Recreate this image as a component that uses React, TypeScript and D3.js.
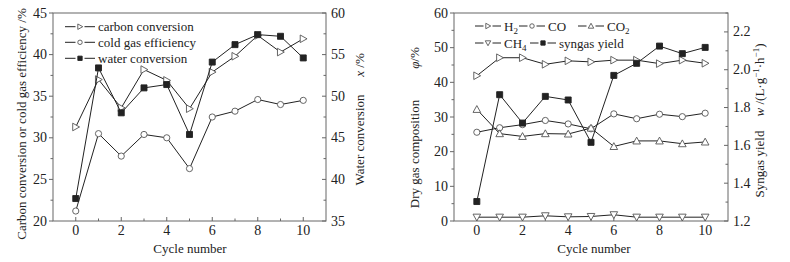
import React from "react";
import * as d3 from "d3";

const cycles = [0, 1, 2, 3, 4, 5, 6, 7, 8, 9, 10];
const carbonConversion = [31.3, 37.0, 33.6, 38.2, 36.9, 33.5, 37.9, 39.8, 42.3, 40.3, 41.9];
const coldGasEfficiency = [21.2, 30.5, 27.8, 30.4, 30.0, 26.3, 32.5, 33.2, 34.6, 34.0, 34.5];
const waterConversion = [37.7, 53.4, 48.0, 51.0, 51.4, 45.4, 54.1, 56.2, 57.4, 57.2, 54.6];

const h2 = [41.9, 47.1, 47.1, 45.2, 46.2, 45.9, 46.4, 46.4, 45.4, 46.4, 45.5];
const co = [25.6, 26.9, 27.8, 29.0, 28.0, 26.6, 30.9, 29.5, 30.8, 30.1, 31.1];
const co2 = [32.2, 25.2, 24.4, 25.2, 25.1, 26.8, 21.5, 23.1, 23.1, 22.3, 22.8];
const ch4 = [1.1, 1.1, 1.1, 1.5, 1.2, 1.3, 1.8, 1.1, 1.1, 1.1, 1.1];
const syngasYield = [1.303, 1.868, 1.718, 1.859, 1.84, 1.616, 1.97, 2.034, 2.125, 2.085, 2.118];

const xMajor = [0, 2, 4, 6, 8, 10];
const xMinor = [1, 3, 5, 7, 9];
const leftYTicks = [20, 25, 30, 35, 40, 45];
const leftYMinor = [22.5, 27.5, 32.5, 37.5, 42.5];
const leftRTicks = [35, 40, 45, 50, 55, 60];
const leftRMinor = [37.5, 42.5, 47.5, 52.5, 57.5];
const rightYTicks = [0, 10, 20, 30, 40, 50, 60];
const rightYMinor = [5, 15, 25, 35, 45, 55];
const rightRTicks = [1.2, 1.4, 1.6, 1.8, 2.0, 2.2];
const rightRMinor = [1.3, 1.5, 1.7, 1.9, 2.1, 2.3];

const FONT = "'Liberation Serif', 'Times New Roman', serif";
const AX = "#666";
const LN = "#222";
const TXT = "#222";

type Marker = "tri-right" | "tri-up" | "tri-down" | "circle" | "square";

function markerPath(kind: Marker, x: number, y: number, k = 1): string {
  const s = 3.8 * k;
  const r = 3.1 * k;
  const h = 3 * k;
  switch (kind) {
    case "tri-right":
      return `M${x - s * 0.8},${y - s}L${x + s},${y}L${x - s * 0.8},${y + s}Z`;
    case "tri-up":
      return `M${x},${y - s}L${x + s},${y + s * 0.8}L${x - s},${y + s * 0.8}Z`;
    case "tri-down":
      return `M${x},${y + s}L${x + s},${y - s * 0.8}L${x - s},${y - s * 0.8}Z`;
    case "circle":
      return `M${x + r},${y}A${r},${r} 0 1,1 ${x - r},${y}A${r},${r} 0 1,1 ${x + r},${y}Z`;
    case "square":
      return `M${x - h},${y - h}h${2 * h}v${2 * h}h${-2 * h}Z`;
  }
}

function MarkerShape({ kind, x, y, k = 1 }: { kind: Marker; x: number; y: number; k?: number }) {
  const filled = kind === "square";
  return (
    <path
      d={markerPath(kind, x, y, k)}
      fill={filled ? LN : "#fff"}
      stroke={filled ? LN : "#555"}
      strokeWidth={0.9}
    />
  );
}

function Series({
  values,
  x,
  y,
  kind,
}: {
  values: number[];
  x: d3.ScaleLinear<number, number>;
  y: d3.ScaleLinear<number, number>;
  kind: Marker;
}) {
  const line = d3
    .line<number>()
    .x((_, i) => x(cycles[i]))
    .y((v) => y(v));
  return (
    <g>
      <path d={line(values) || ""} fill="none" stroke={LN} strokeWidth={1} />
      {values.map((v, i) => (
        <MarkerShape key={i} kind={kind} x={x(cycles[i])} y={y(v)} />
      ))}
    </g>
  );
}

function Frame({
  x,
  yL,
  yR,
  lTicks,
  lMinor,
  rTicks,
  rMinor,
  rFmt,
}: {
  x: d3.ScaleLinear<number, number>;
  yL: d3.ScaleLinear<number, number>;
  yR: d3.ScaleLinear<number, number>;
  lTicks: number[];
  lMinor: number[];
  rTicks: number[];
  rMinor: number[];
  rFmt: (v: number) => string;
}) {
  const [x0, x1] = x.range();
  const [yb, yt] = yL.range();
  return (
    <g>
      <rect x={x0} y={yt} width={x1 - x0} height={yb - yt} fill="none" stroke={AX} strokeWidth={1} />
      {xMajor.map((t) => (
        <g key={"xm" + t}>
          <line x1={x(t)} x2={x(t)} y1={yb} y2={yb - 4} stroke={AX} />
          <text x={x(t)} y={yb + 14} textAnchor="middle" fontSize={14} fontFamily={FONT} fill={TXT}>
            {t}
          </text>
        </g>
      ))}
      {xMinor.map((t) => (
        <line key={"xn" + t} x1={x(t)} x2={x(t)} y1={yb} y2={yb - 2.5} stroke={AX} />
      ))}
      {lTicks.map((t) => (
        <g key={"lm" + t}>
          <line x1={x0} x2={x0 - 4} y1={yL(t)} y2={yL(t)} stroke={AX} />
          <text x={x0 - 6} y={yL(t) + 4.5} textAnchor="end" fontSize={14} fontFamily={FONT} fill={TXT}>
            {t}
          </text>
        </g>
      ))}
      {lMinor.map((t) => (
        <line key={"ln" + t} x1={x0} x2={x0 - 2.5} y1={yL(t)} y2={yL(t)} stroke={AX} />
      ))}
      {rTicks.map((t) => (
        <g key={"rm" + t}>
          <line x1={x1} x2={x1 - 4} y1={yR(t)} y2={yR(t)} stroke={AX} />
          <text x={x1 + 5} y={yR(t) + 4.5} textAnchor="start" fontSize={14} fontFamily={FONT} fill={TXT}>
            {rFmt(t)}
          </text>
        </g>
      ))}
      {rMinor.map((t) => (
        <line key={"rn" + t} x1={x1} x2={x1 - 2.5} y1={yR(t)} y2={yR(t)} stroke={AX} />
      ))}
    </g>
  );
}

function LegendItem({ x, y, kind, w = 30, children }: { x: number; y: number; kind: Marker; w?: number; children: React.ReactNode }) {
  const c = x + w / 2;
  return (
    <g>
      <line x1={x} x2={c - 4.5} y1={y} y2={y} stroke={LN} strokeWidth={1} />
      <line x1={c + 4.5} x2={x + w} y1={y} y2={y} stroke={LN} strokeWidth={1} />
      <MarkerShape kind={kind} x={c} y={y} k={0.72} />
      <text x={x + w + 3} y={y + 4.5} fontSize={13} fontFamily={FONT} fill={TXT}>
        {children}
      </text>
    </g>
  );
}

function Sub({ children }: { children: React.ReactNode }) {
  return (
    <tspan fontSize={9} dy={3}>
      {children}
    </tspan>
  );
}

export default function App() {
  const xA = d3.scaleLinear().domain([-1, 11]).range([53, 326]);
  const yA = d3.scaleLinear().domain([20, 45]).range([221, 13]);
  const yAR = d3.scaleLinear().domain([35, 60]).range([221, 13]);

  const xB = d3.scaleLinear().domain([-1, 11]).range([454, 728]);
  const yB = d3.scaleLinear().domain([0, 60]).range([221, 13]);
  const yBR = d3.scaleLinear().domain([1.2, 2.3]).range([221, 13]);

  return (
    <svg
      width={790}
      height={262}
      style={{ position: "absolute", left: 0, top: 0, background: "#fff" }}
    >
      <rect width={790} height={262} fill="#fff" />
      {/* Left chart */}
      <Frame
        x={xA}
        yL={yA}
        yR={yAR}
        lTicks={leftYTicks}
        lMinor={leftYMinor}
        rTicks={leftRTicks}
        rMinor={leftRMinor}
        rFmt={(v) => String(v)}
      />
      <Series values={carbonConversion} x={xA} y={yA} kind="tri-right" />
      <Series values={coldGasEfficiency} x={xA} y={yA} kind="circle" />
      <Series values={waterConversion} x={xA} y={yAR} kind="square" />
      <LegendItem x={65} y={26.7} kind="tri-right">carbon conversion</LegendItem>
      <LegendItem x={65} y={42.3} kind="circle">cold gas efficiency</LegendItem>
      <LegendItem x={65} y={58.3} kind="square">water conversion</LegendItem>
      <text
        transform="translate(26,124) rotate(-90)"
        textAnchor="middle"
        fontSize={13}
        fontFamily={FONT}
        fill={TXT}
      >
        Carbon conversion or cold gas efficiency /%
      </text>
      <text transform="translate(364,140) rotate(-90)" textAnchor="middle" fontSize={13} fontFamily={FONT} fill={TXT}>
        Water conversion
      </text>
      <text transform="translate(364,65) rotate(-90)" textAnchor="middle" fontSize={13} fontFamily={FONT} fill={TXT}>
        <tspan fontStyle="italic">x</tspan> /%
      </text>
      <text x={190} y={253} textAnchor="middle" fontSize={13} fontFamily={FONT} fill={TXT}>
        Cycle number
      </text>

      {/* Right chart */}
      <Frame
        x={xB}
        yL={yB}
        yR={yBR}
        lTicks={rightYTicks}
        lMinor={rightYMinor}
        rTicks={rightRTicks}
        rMinor={rightRMinor}
        rFmt={(v) => v.toFixed(1)}
      />
      <Series values={h2} x={xB} y={yB} kind="tri-right" />
      <Series values={co} x={xB} y={yB} kind="circle" />
      <Series values={co2} x={xB} y={yB} kind="tri-up" />
      <Series values={ch4} x={xB} y={yB} kind="tri-down" />
      <Series values={syngasYield} x={xB} y={yBR} kind="square" />
      <LegendItem x={475} y={26} kind="tri-right" w={26}>
        H<Sub>2</Sub>
      </LegendItem>
      <LegendItem x={519} y={26} kind="circle" w={26}>
        CO
      </LegendItem>
      <LegendItem x={578} y={26} kind="tri-up" w={26}>
        CO<Sub>2</Sub>
      </LegendItem>
      <LegendItem x={475} y={43} kind="tri-down" w={26}>
        CH<Sub>4</Sub>
      </LegendItem>
      <LegendItem x={530} y={43} kind="square" w={26}>
        syngas yield
      </LegendItem>
      <text transform="translate(419,154) rotate(-90)" textAnchor="middle" fontSize={13} fontFamily={FONT} fill={TXT}>
        Dry gas composition
      </text>
      <text transform="translate(419,58) rotate(-90)" textAnchor="middle" fontSize={13} fontFamily={FONT} fill={TXT}>
        <tspan fontStyle="italic">φ</tspan>/%
      </text>
      <text transform="translate(764,164) rotate(-90)" textAnchor="middle" fontSize={13} fontFamily={FONT} fill={TXT}>
        Syngas yield
      </text>
      <text transform="translate(764,80) rotate(-90)" textAnchor="middle" fontSize={13} fontFamily={FONT} fill={TXT}>
        <tspan fontStyle="italic">w</tspan> /(L·g
        <tspan fontSize={9} dy={-5}>−1</tspan>
        <tspan dy={5}>·h</tspan>
        <tspan fontSize={9} dy={-5}>−1</tspan>
        <tspan dy={5}>)</tspan>
      </text>
      <text x={594} y={253} textAnchor="middle" fontSize={13} fontFamily={FONT} fill={TXT}>
        Cycle number
      </text>
    </svg>
  );
}
